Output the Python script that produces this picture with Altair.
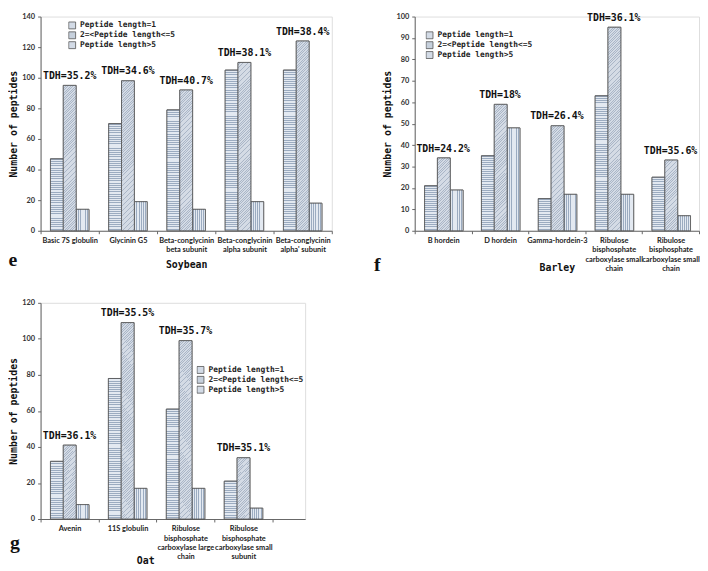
import altair as alt
import pandas as pd

series = ["Peptide length=1", "2=<Peptide length<=5", "Peptide length>5"]

# Panel e - Soybean
e_categories = ["Basic 7S globulin", "Glycinin G5", "Beta-conglycinin|beta subunit",
                "Beta-conglycinin|alpha subunit", "Beta-conglycinin|alpha' subunit"]
e_len1 = [47, 70, 79, 105, 105]
e_len2to5 = [95, 98, 92, 110, 124]
e_len6plus = [14, 19, 14, 19, 18]
e_tdh = ["TDH=35.2%", "TDH=34.6%", "TDH=40.7%", "TDH=38.1%", "TDH=38.4%"]

# Panel f - Barley
f_categories = ["B hordein", "D hordein", "Gamma-hordein-3",
                "Ribulose|bisphosphate|carboxylase small|chain",
                "Ribulose|bisphosphate|carboxylase small|chain\u200b"]
f_len1 = [21, 35, 15, 63, 25]
f_len2to5 = [34, 59, 49, 95, 33]
f_len6plus = [19, 48, 17, 17, 7]
f_tdh = ["TDH=24.2%", "TDH=18%", "TDH=26.4%", "TDH=36.1%", "TDH=35.6%"]

# Panel g - Oat
g_categories = ["Avenin", "11S globulin",
                "Ribulose|bisphosphate|carboxylase large|chain",
                "Ribulose|bisphosphate|carboxylase small|subunit"]
g_len1 = [32, 78, 61, 21]
g_len2to5 = [41, 109, 99, 34]
g_len6plus = [8, 17, 17, 6]
g_tdh = ["TDH=36.1%", "TDH=35.5%", "TDH=35.7%", "TDH=35.1%"]

MONO = "DejaVu Sans Mono"
SANS = "Lato"
BG = "#e3e9f1"
LINE = "#9babc0"
BG2 = "#d4dbe5"
LINE2 = "#aab6c7"
FLAT = ["#d3dbe6", "#c6d0dc", "#d3dbe6"]
STROKE = "#555555"


def stripe_stops(n, bg, line, frac):
    stops = []
    for i in range(n):
        a = i / n
        b = (i + frac) / n
        c = (i + 1) / n
        stops += [alt.GradientStop(color=line, offset=a), alt.GradientStop(color=line, offset=b),
                  alt.GradientStop(color=bg, offset=b), alt.GradientStop(color=bg, offset=c)]
    return stops


def panel(cats, vals, tdh, ymax, ystep, W, H, x_po, align, xo_po, leg_xy,
          title, title_xy, letter, letter_xy):
    rows = []
    for s, vs in zip(series, vals):
        for c, v in zip(cats, vs):
            rows.append({"category": c, "series": s, "value": v})
    df = pd.DataFrame(rows)

    xaxis_kw = dict(labelAngle=0, labelExpr="datum.value ? split(datum.value, '|') : ''",
                    labelFont=SANS, labelFontSize=7.5, labelFontWeight="bold", labelColor="#222",
                    labelLineHeight=9.5, labelPadding=3, labelOverlap=False, labelLimit=300,
                    labelBound=False, tickBand="extent", tickSize=3, tickColor="#666",
                    domainColor="#666", titleFont=MONO, titleFontSize=10,
                    titleFontWeight="bold", titleColor="#111", titleBaseline="middle",
                    titleY=title_xy[1])
    if title_xy[0] is not None:
        xaxis_kw["titleX"] = title_xy[0]
    x = alt.X("category:N", title=title,
              scale=alt.Scale(domain=cats, paddingInner=0, paddingOuter=x_po, align=align),
              axis=alt.Axis(**xaxis_kw))
    xo = alt.XOffset("series:N", scale=alt.Scale(domain=series, paddingInner=0, paddingOuter=xo_po))
    yaxis = alt.Axis(values=list(range(0, ymax + 1, ystep)), grid=False, labelFont=SANS,
                     labelFontSize=7.5, labelFontWeight="bold", labelColor="#333",
                     tickSize=3, labelPadding=3, tickColor="#666", domainColor="#666",
                     titleFont=MONO, titleFontSize=10, titleFontWeight="bold",
                     titleColor="#111", titlePadding=3)
    yscale = alt.Scale(domain=[0, ymax], nice=False)
    y = alt.Y("value:Q", title="Number of peptides", scale=yscale, axis=yaxis)

    base = alt.Chart(df).mark_bar(stroke=STROKE, strokeWidth=0.8).encode(
        x=x, xOffset=xo, y=y,
        fill=alt.Fill("series:N", scale=alt.Scale(domain=series, range=FLAT),
                      legend=alt.Legend(title=None, orient="none", legendX=leg_xy[0],
                                        legendY=leg_xy[1], symbolType="square",
                                        symbolSize=49, symbolStrokeColor=STROKE,
                                        symbolStrokeWidth=0.8, labelFont=MONO,
                                        labelFontSize=8, labelFontWeight="bold",
                                        labelColor="#222", rowPadding=0, clipHeight=10,
                                        padding=0, labelOffset=4)))
    layers = [base]
    band = W / (len(cats) + 2 * x_po)
    bar_w = band / (3 + 2 * xo_po)

    # vertical stripes for the ">5" series
    vgrad = alt.LinearGradient(gradient="linear", stops=stripe_stops(6, BG, LINE, 0.45),
                               x1=0, x2=1, y1=0, y2=0)
    layers.append(alt.Chart(df[df.series == series[2]]).mark_bar(
        fill=vgrad, stroke=STROKE, strokeWidth=0.8).encode(x=x, xOffset=xo, y=y))

    for c, v1, v2 in zip(cats, vals[0], vals[1]):
        # horizontal stripes for "=1"
        h1 = v1 / ymax * H
        n1 = max(1, round(h1 / 2.2))
        g1 = alt.LinearGradient(gradient="linear", stops=stripe_stops(n1, BG, LINE, 0.45),
                                x1=0, x2=0, y1=0, y2=1)
        sub1 = df[(df.series == series[0]) & (df.category == c)]
        layers.append(alt.Chart(sub1).mark_bar(fill=g1, stroke=STROKE, strokeWidth=0.8).encode(
            x=x, xOffset=xo, y=y))
        # fine 45-degree hatch for "2-5"
        h2 = v2 / ymax * H
        k = (bar_w + h2) / (bar_w ** 2 + h2 ** 2)
        n2 = max(1, round((bar_w + h2) / (1.8 * 1.414)))
        g2 = alt.LinearGradient(gradient="linear", stops=stripe_stops(n2, BG2, LINE2, 0.35),
                                x1=0, y1=0, x2=k * bar_w, y2=k * h2)
        sub2 = df[(df.series == series[1]) & (df.category == c)]
        layers.append(alt.Chart(sub2).mark_bar(fill=g2, stroke=STROKE, strokeWidth=0.8).encode(
            x=x, xOffset=xo, y=y))

    tdf = pd.DataFrame({"category": cats, "tdh": tdh,
                        "value": [max(t) for t in zip(*vals)]})
    layers.append(alt.Chart(tdf).mark_text(font=MONO, fontSize=10, fontWeight="bold",
                                           baseline="middle", dy=-9.5, color="#111").encode(
        x=x, y=y, text="tdh:N"))
    layers.append(alt.Chart(pd.DataFrame({"t": [letter]})).mark_text(
        font="Liberation Serif", fontSize=20, fontWeight="bold", color="#111",
        baseline="middle", align="center").encode(
        text="t:N", x=alt.value(letter_xy[0]), y=alt.value(letter_xy[1])))
    return alt.layer(*layers).properties(width=W, height=H)


H1, H2 = 217, 219
e = panel(e_categories, [e_len1, e_len2to5, e_len6plus], e_tdh, 140, 20, 295, H1, 0, 0.5, 0.77,
          (28, 4), "Soybean", (None, 34), "e", (-28, H1 + 30))
f = panel(f_categories, [f_len1, f_len2to5, f_len6plus], f_tdh, 100, 10, 288, H1, 0, 0.5, 0.715,
          (11, 14), "Barley", (None, 37), "f", (-38, H1 + 35))
g = panel(g_categories, [g_len1, g_len2to5, g_len6plus], g_tdh, 120, 20, 268, H2, 0.283, 0, 0.71,
          (158, 63), "Oat", (106, 42), "g", (-26, H2 + 24))

top = alt.hconcat(e, f, spacing=41).resolve_scale(fill="independent").resolve_legend(fill="independent")
chart = alt.vconcat(top, g, spacing=22, padding=0).resolve_scale(
    fill="independent").resolve_legend(fill="independent").configure_view(
    strokeOpacity=0).configure(background="white")

chart.save("out.html", embed_options={"renderer": "svg", "actions": False})
